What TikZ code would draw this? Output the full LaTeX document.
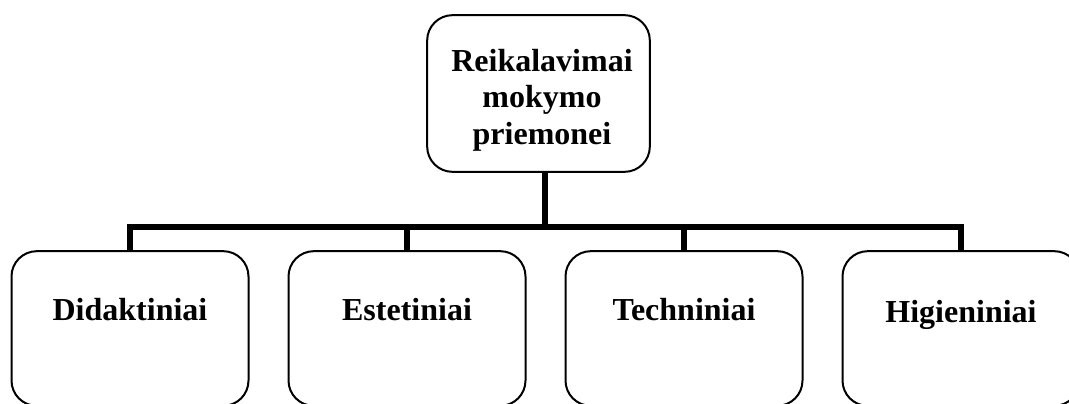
\documentclass[tikz,border=0pt]{standalone}
\usepackage{fontspec}
\setmainfont{Liberation Serif}
\begin{document}
\begin{tikzpicture}[x=0.75pt,y=-0.75pt,
  box/.style={draw=black,line width=1.5pt,rounded corners=19pt,
    minimum width=177.75pt,minimum height=116pt,inner sep=0pt},
  topbox/.style={draw=black,line width=1.5pt,rounded corners=19pt,
    minimum width=167pt,minimum height=117.5pt,inner sep=0pt},
  toptxt/.style={inner sep=0pt,align=center,
    font=\fontsize{24}{27.3}\selectfont\bfseries},
  lbl/.style={anchor=base,inner sep=0pt,font=\fontsize{24}{28}\selectfont\bfseries},
  bar/.style={line width=4.5pt,miter limit=10}]
\useasboundingbox (0,0) rectangle (1069,403);
\clip (0,0) rectangle (1069,403);

% root of the tree
\node[topbox] (top) at (538.5,93.5) {};
\node[toptxt] (toptext) at (542,100) {Reikalavimai\\mokymo\\priemonei};

% the four kinds of requirements
\node[box] (d1) at (130,328.5) {};
\node[box] (d2) at (407,328.5) {};
\node[box] (d3) at (684,328.5) {};
\node[box] (d4) at (961,328.5) {};

\node[lbl] (t1) at (130,320) {Didaktiniai};
\node[lbl] (t2) at (407,320) {Estetiniai};
\node[lbl] (t3) at (684,320) {Techniniai};
\node[lbl] (t4) at (961,322) {Higieniniai};

% connectors
\coordinate (j) at (545,227);
\draw[bar] (top.south -| j) -- (j);
\draw[bar] (d1.north) -- (d1.north |- j) -- (d4.north |- j) -- (d4.north);
\draw[bar] (d2.north |- j) -- (d2.north);
\draw[bar] (d3.north |- j) -- (d3.north);
\end{tikzpicture}
\end{document}
